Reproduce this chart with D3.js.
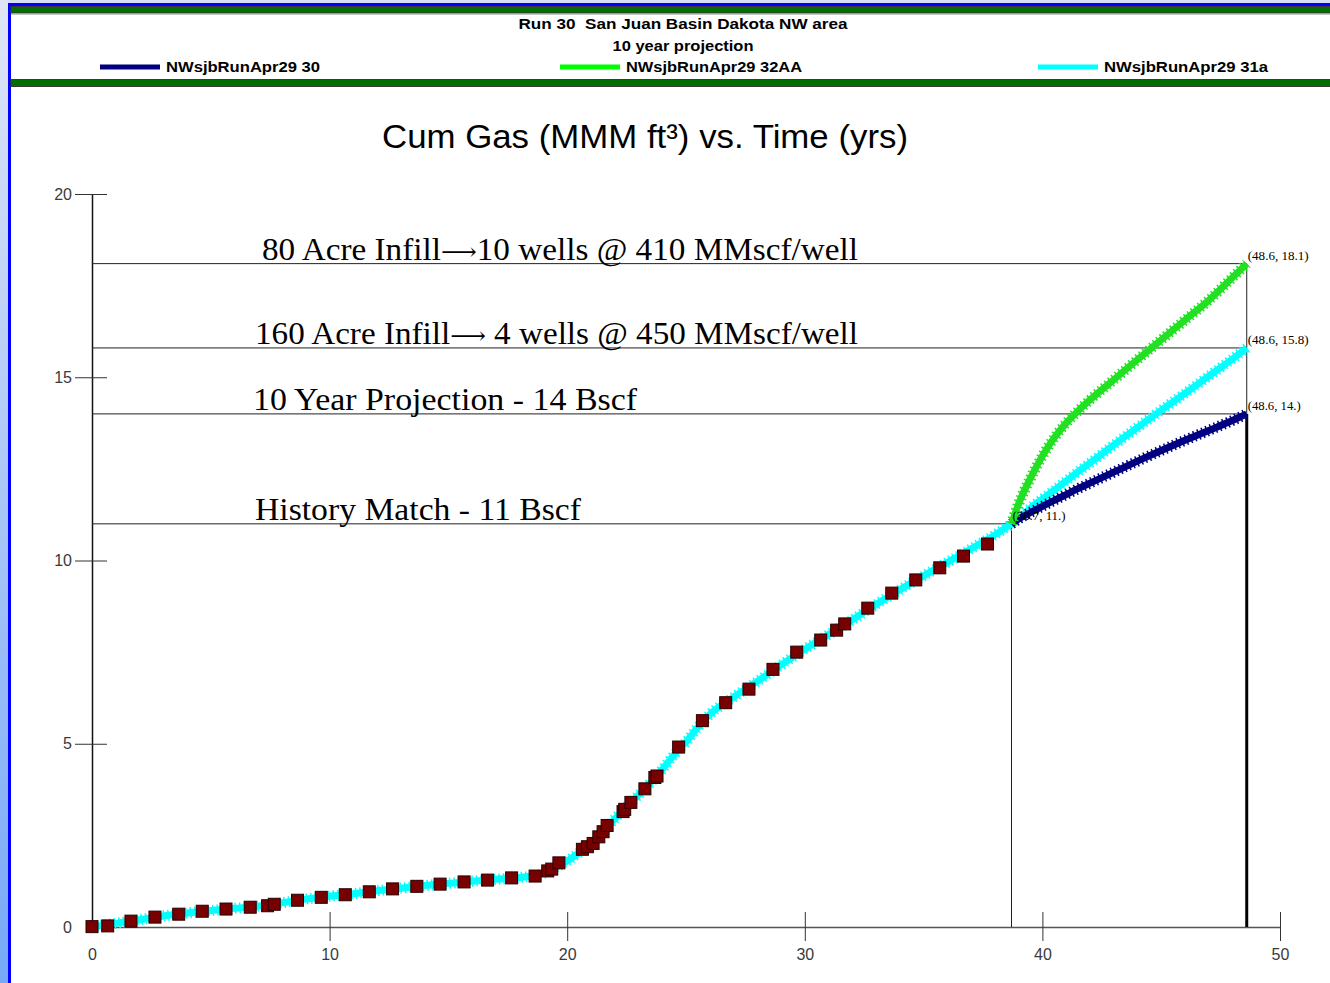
<!DOCTYPE html>
<html>
<head>
<meta charset="utf-8">
<script src="https://cdn.jsdelivr.net/npm/d3@7"></script>
<style>
  body { margin: 0; background: #fff; }
  svg { display: block; }
  text { white-space: pre; }
</style>
</head>
<body>
<svg id="chart" width="1330" height="983"></svg>
<script>
// header text
const headerTitle = "Run 30  San Juan Basin Dakota NW area";
const headerSub = "10 year projection";
const legendNames = ["NWsjbRunApr29 30", "NWsjbRunApr29 32AA", "NWsjbRunApr29 31a"];
const legendColors = ["#000080", "#00ff00", "#00ffff"];

const chartTitle = "Cum Gas (MMM ft\u00b3) vs. Time (yrs)";

// axis ticks
const xTicks = [0, 10, 20, 30, 40, 50];
const yTicks = [0, 5, 10, 15, 20];

// measured points (years, MMM ft3)
const obsT = [0.0, 0.66, 1.64, 2.65, 3.65, 4.64, 5.64, 6.66, 7.39, 7.67, 8.65, 9.65, 10.66, 11.67, 12.65,
  13.67, 14.65, 15.66, 16.65, 17.66, 18.65, 19.18, 19.35, 19.65, 20.64, 20.85, 21.09, 21.33, 21.51, 21.68,
  22.35, 22.42, 22.68, 23.27, 23.69, 23.78, 24.69, 25.69, 26.67, 27.65, 28.66, 29.66, 30.67, 31.34, 31.68,
  32.65, 33.66, 34.67, 35.68, 36.68, 37.69];
const obsV = [0.01, 0.03, 0.16, 0.27, 0.35, 0.43, 0.49, 0.54, 0.58, 0.62, 0.73, 0.81, 0.88, 0.96, 1.04,
  1.11, 1.17, 1.23, 1.28, 1.34, 1.39, 1.53, 1.58, 1.75, 2.12, 2.19, 2.28, 2.46, 2.60, 2.77,
  3.15, 3.21, 3.40, 3.77, 4.08, 4.12, 4.91, 5.63, 6.12, 6.49, 7.03, 7.50, 7.83, 8.10, 8.27,
  8.70, 9.11, 9.47, 9.80, 10.12, 10.45];

// history match curve (run 31a)
const histT = [0, 1, 2, 3, 4, 5, 6, 7, 8, 9, 10, 11, 12, 13, 14, 15, 16, 17, 18, 18.5, 19, 19.5, 20, 20.5,
  21, 21.5, 22, 22.5, 23, 23.5, 24, 24.5, 25, 25.5, 26, 27, 28, 29, 30, 31, 32, 33, 34, 35, 36, 37, 38, 38.7];
const histV = [0.0, 0.1, 0.2, 0.3, 0.38, 0.45, 0.51, 0.57, 0.66, 0.76, 0.84, 0.91, 0.99, 1.06, 1.13, 1.19,
  1.25, 1.3, 1.35, 1.39, 1.46, 1.62, 1.8, 2.03, 2.28, 2.58, 2.95, 3.28, 3.6, 3.93, 4.3, 4.7, 5.05, 5.45, 5.8,
  6.27, 6.7, 7.15, 7.58, 7.98, 8.38, 8.8, 9.2, 9.58, 9.95, 10.32, 10.7, 11.0];

// projections
const projT = [38.7, 39.0, 39.5, 40.0, 40.5, 41.0, 41.5, 42.0, 43.0, 44.0, 45.0, 46.0, 47.0, 48.0, 48.6];
const run30V = [11.0, 11.13, 11.31, 11.48, 11.64, 11.8, 11.96, 12.11, 12.41, 12.71, 13.0, 13.28, 13.55, 13.82, 14.0];
const run32V = [11.0, 11.55, 12.25, 12.85, 13.35, 13.75, 14.08, 14.38, 14.93, 15.48, 16.02, 16.56, 17.1, 17.72, 18.1];
const run31V = [11.0, 11.15, 11.43, 11.68, 11.92, 12.17, 12.42, 12.66, 13.15, 13.63, 14.1, 14.56, 15.03, 15.5, 15.8];

// reference levels and annotation
const refLevels = [18.1, 15.8, 14, 11];
const refEnds = [48.6, 48.6, 48.6, 38.7];
const refNotes = [
  ["80 Acre Infill", "10 wells @ 410 MMscf/well"],
  ["160 Acre Infill", " 4 wells @ 450 MMscf/well"],
  ["10 Year Projection - 14 Bscf"],
  ["History Match - 11 Bscf"]
];
const pointLabels = ["(48.6, 18.1)", "(48.6, 15.8)", "(48.6, 14.)", "(38.7, 11.)"];

const W = 1330, H = 983;
const svg = d3.select("#chart");

// ---- window frame ----
const grad = svg.append("defs").append("linearGradient")
  .attr("id", "side").attr("x1", 0).attr("y1", 0).attr("x2", 0).attr("y2", 1);
grad.append("stop").attr("offset", "0%").attr("stop-color", "#dfe5f6");
grad.append("stop").attr("offset", "100%").attr("stop-color", "#76a8f8");

svg.append("rect").attr("width", W).attr("height", H).attr("fill", "#fff");
svg.append("rect").attr("width", W).attr("height", 3).attr("fill", "#d8dff4");
svg.append("rect").attr("width", 8).attr("height", H).attr("fill", "url(#side)");
svg.append("rect").attr("x", 8).attr("y", 3).attr("width", 3).attr("height", H - 3).attr("fill", "#0000ff");
svg.append("rect").attr("x", 8).attr("y", 3).attr("width", W - 8).attr("height", 3).attr("fill", "#0000ff");

[[6.5, 6.5], [79.5, 7]].forEach(b => {
  svg.append("rect")
    .attr("x", 11).attr("y", b[0]).attr("width", W).attr("height", b[1])
    .attr("fill", "#006e00").attr("stroke", "#3a3a3a").attr("stroke-width", 1);
});
svg.append("line").attr("x1", 11).attr("x2", W).attr("y1", 14.5).attr("y2", 14.5)
  .attr("stroke", "#c8c8c8");

// ---- header ----
const hdr = svg.append("g")
  .attr("font-family", "Liberation Sans, Arial, sans-serif")
  .attr("font-weight", "bold").attr("font-size", 14).attr("fill", "#000");
hdr.append("text").attr("x", 683).attr("y", 29).attr("text-anchor", "middle")
  .attr("textLength", 329).attr("lengthAdjust", "spacingAndGlyphs").text(headerTitle);
hdr.append("text").attr("x", 683).attr("y", 51).attr("text-anchor", "middle")
  .attr("textLength", 141).attr("lengthAdjust", "spacingAndGlyphs").text(headerSub);

const legX = [100, 560, 1038];
const legLen = [154, 176, 164];
legendNames.forEach((n, i) => {
  hdr.append("line").attr("x1", legX[i]).attr("x2", legX[i] + 60).attr("y1", 67).attr("y2", 67)
    .attr("stroke", legendColors[i]).attr("stroke-width", 5);
  hdr.append("text").attr("x", legX[i] + 66).attr("y", 72)
    .attr("textLength", legLen[i]).attr("lengthAdjust", "spacingAndGlyphs").text(n);
});

// ---- title ----
svg.append("text").attr("x", 645).attr("y", 148).attr("text-anchor", "middle")
  .attr("font-family", "Liberation Sans, Arial, sans-serif").attr("font-size", 33)
  .attr("textLength", 526).attr("lengthAdjust", "spacingAndGlyphs")
  .text(chartTitle);

// ---- scales & axes ----
const x = d3.scaleLinear().domain([0, 50]).range([92, 1280]);
const y = d3.scaleLinear().domain([0, 20]).range([927, 194]);

const xAxis = svg.append("g")
  .attr("transform", `translate(0,${y(0)})`)
  .call(d3.axisBottom(x).tickValues(xTicks).tickSize(14).tickSizeOuter(0).tickFormat(d3.format("d")));
xAxis.select(".domain").attr("stroke", "#555").attr("stroke-width", 1.5);
xAxis.selectAll(".tick line").attr("y1", -15).attr("stroke", "#333");
xAxis.selectAll(".tick").filter(d => d === 0).select("line").remove();
xAxis.selectAll(".tick text").attr("y", 22).attr("fill", "#3a3a3a")
  .attr("font-family", "Liberation Sans, Arial, sans-serif").attr("font-size", 16);

const yAxis = svg.append("g")
  .attr("transform", `translate(${x(0)},0)`)
  .call(d3.axisLeft(y).tickValues(yTicks).tickSize(17).tickSizeOuter(0).tickFormat(d3.format("d")));
yAxis.select(".domain").attr("stroke", "#111").attr("stroke-width", 1.5);
yAxis.selectAll(".tick line").attr("x1", 15).attr("stroke", "#333");
yAxis.selectAll(".tick").filter(d => d === 0).select("line").remove();
yAxis.selectAll(".tick text").attr("fill", "#3a3a3a")
  .attr("font-family", "Liberation Sans, Arial, sans-serif").attr("font-size", 16);

// ---- reference lines ----
const ref = svg.append("g").attr("stroke", "#222").attr("stroke-width", 1);
refLevels.forEach((lv, i) => {
  ref.append("line").attr("x1", x(0)).attr("x2", x(refEnds[i]))
    .attr("y1", y(lv)).attr("y2", y(lv));
});
ref.append("line").attr("x1", x(refEnds[3])).attr("x2", x(refEnds[3]))
  .attr("y1", y(refLevels[3])).attr("y2", y(0));
ref.append("line").attr("x1", x(refEnds[0])).attr("x2", x(refEnds[0]))
  .attr("y1", y(refLevels[0])).attr("y2", y(0));
ref.append("line").attr("x1", x(refEnds[2])).attr("x2", x(refEnds[2]))
  .attr("y1", y(refLevels[2])).attr("y2", y(0)).attr("stroke", "#000").attr("stroke-width", 3);

// ---- curves ----
const line = d3.line()
  .x(d => x(d[0]))
  .y(d => y(d[1]))
  .curve(d3.curveMonotoneX);

function band(pts, color) {
  const g = svg.append("g").attr("fill", "none").attr("stroke", color);
  g.append("path").datum(pts).attr("d", line).attr("stroke-width", 7);
  g.append("path").datum(pts).attr("d", line).attr("stroke-width", 11)
    .attr("stroke-dasharray", "1.5 3");
}

band(d3.zip(histT, histV), legendColors[2]);
band(d3.zip(projT, run31V), legendColors[2]);
band(d3.zip(projT, run30V), legendColors[0]);
band(d3.zip(projT, run32V), "#22e022");

// ---- measured data ----
svg.append("g").selectAll("rect")
  .data(d3.zip(obsT, obsV))
  .join("rect")
  .attr("x", d => x(d[0]) - 6)
  .attr("y", d => y(d[1]) - 6)
  .attr("width", 12).attr("height", 12)
  .attr("fill", "#780000")
  .attr("stroke", "#2a0000").attr("stroke-width", 1);

// ---- annotations ----
const noteLen = [596, 603, 384, 326];
const noteX = [262, 255, 253, 255];
const notes = svg.append("g")
  .attr("font-family", "Liberation Serif, Times New Roman, serif")
  .attr("font-size", 32).attr("fill", "#000");
refNotes.forEach((parts, i) => {
  const t = notes.append("text").attr("x", noteX[i]).attr("y", y(refLevels[i]) - 4)
    .attr("textLength", noteLen[i]).attr("lengthAdjust", "spacingAndGlyphs");
  t.append("tspan").text(parts[0]);
  if (parts.length > 1) {
    t.append("tspan").attr("font-family", "DejaVu Serif, DejaVu Sans, serif")
      .attr("font-size", 24).text("\u27F6");
    t.append("tspan").text(parts[1]);
  }
});

const ptLabels = svg.append("g")
  .attr("font-family", "Liberation Serif, Times New Roman, serif")
  .attr("font-size", 13).attr("fill", "#000");
pointLabels.forEach((t, i) => {
  ptLabels.append("text").attr("x", x(refEnds[i]) + 1).attr("y", y(refLevels[i]) - 4)
    .attr("textLength", t.length > 11 ? 61 : 53).attr("lengthAdjust", "spacingAndGlyphs")
    .text(t);
});
</script>
</body>
</html>
